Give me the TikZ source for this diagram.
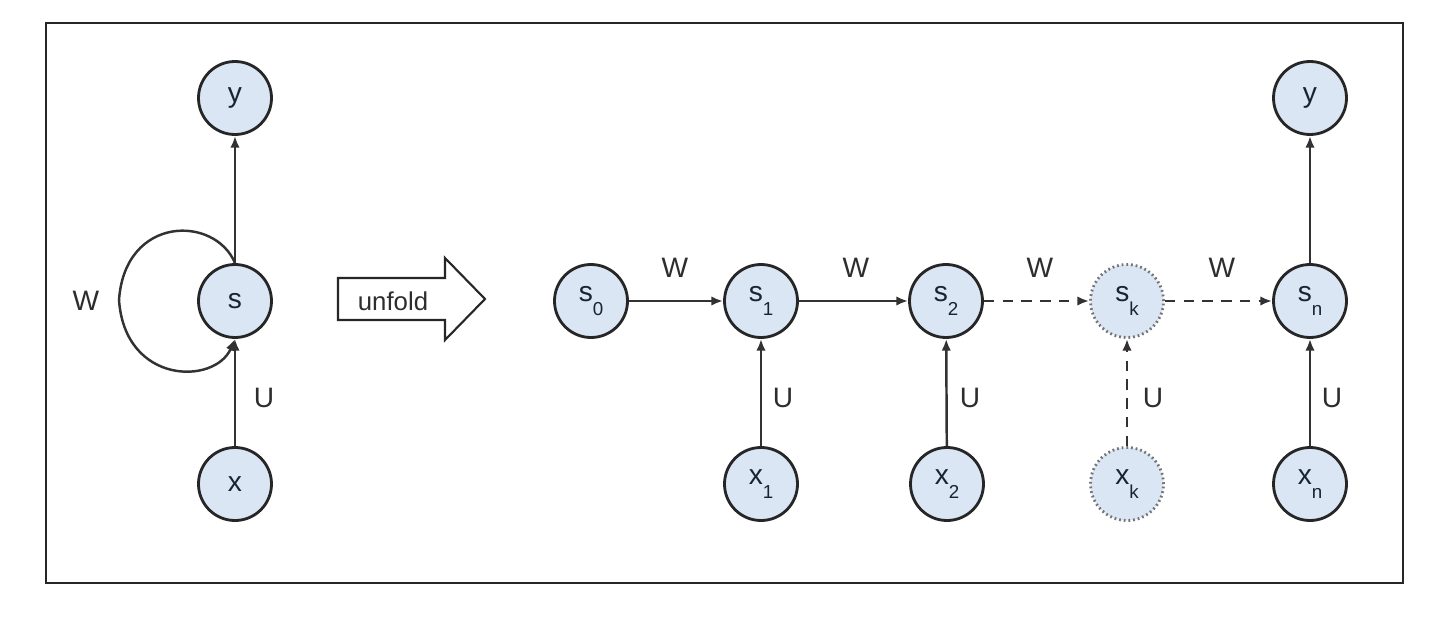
\documentclass[tikz,border=0pt]{standalone}
\usepackage{fontspec}
\setmainfont{Liberation Sans}
\usetikzlibrary{arrows.meta}
\definecolor{nodefill}{RGB}{218,230,244}
\definecolor{textcol}{RGB}{25,35,50}
\definecolor{linecol}{RGB}{50,50,50}
\definecolor{labcol}{RGB}{45,45,45}
\newcommand\subx[1]{\raisebox{-0.5em}{\fontsize{16}{18}\selectfont#1}}
\begin{document}
\begin{tikzpicture}[x=0.03cm,y=-0.03cm,
  state/.style={circle,draw=black!85,line width=2.4pt,fill=nodefill,minimum size=2.19cm,inner sep=0pt,font=\fontsize{24}{28}\selectfont,text=textcol},
  ghost/.style={state,draw=black!55,dash pattern=on 1.5pt off 2.5pt},
  edge/.style={draw=linecol,line width=2.1pt,-{Latex[length=10pt,width=8pt]}},
  dashedge/.style={edge,dash pattern=on 9pt off 7pt},
  lab/.style={font=\fontsize{24}{28}\selectfont,text=labcol,inner sep=0pt}]
\useasboundingbox (0,0) rectangle (1444,617);
\fill[white] (0,0) rectangle (1444,617);
\draw[line width=2pt,draw=black!85] (46,23) rectangle (1403,583);
% left folded network
\node[state] (y) at (235,98) {y};
\node[state] (s) at (235,301) {s};
\node[state] (x) at (235,484) {x};
\draw[edge] (s) -- (y);
\draw[edge] (x) -- (s);
\draw[edge] (s.north) .. controls (215,215) and (125,215) .. (119,300) .. controls (125,385) and (215,385) .. (s.south);
\node[lab] (wl) at (86,301) {W};
\node[lab] (ul) at (264,398) {U};
% unfold arrow
\draw[line width=1.8pt,draw=black!85] (338,278) -- (445,278) -- (445,258) -- (485,299) -- (445,340) -- (445,320) -- (338,320) -- cycle;
\node[font=\fontsize{22}{26}\selectfont,text=labcol] (unf) at (393,301) {unfold};
% unfolded network
\node[state] (s0) at (591,301) {s\subx{0}};
\node[state] (s1) at (761,301) {s\subx{1}};
\node[state] (s2) at (946,301) {s\subx{2}};
\node[ghost] (sk) at (1127,301) {s\subx{k}};
\node[state] (sn) at (1310,301) {s\subx{n}};
\node[state] (yn) at (1310,98) {y};
\node[state] (x1) at (761,484) {x\subx{1}};
\node[state] (x2) at (947,484) {x\subx{2}};
\node[ghost] (xk) at (1127,484) {x\subx{k}};
\node[state] (xn) at (1310,484) {x\subx{n}};
\draw[edge] (s0) -- (s1);
\draw[edge] (s1) -- (s2);
\draw[dashedge] (s2) -- (sk);
\draw[dashedge] (sk) -- (sn);
\draw[edge] (sn) -- (yn);
\draw[edge] (x1) -- (s1);
\draw[edge] (x2) -- (s2);
\draw[dashedge] (xk) -- (sk);
\draw[edge] (xn) -- (sn);
\node[lab] (w1) at (675,268) {W};
\node[lab] (w2) at (856,268) {W};
\node[lab] (w3) at (1040,268) {W};
\node[lab] (w4) at (1222,268) {W};
\node[lab] (u1) at (783,398) {U};
\node[lab] (u2) at (970,398) {U};
\node[lab] (u3) at (1153,398) {U};
\node[lab] (u4) at (1332,398) {U};
\end{tikzpicture}
\end{document}
